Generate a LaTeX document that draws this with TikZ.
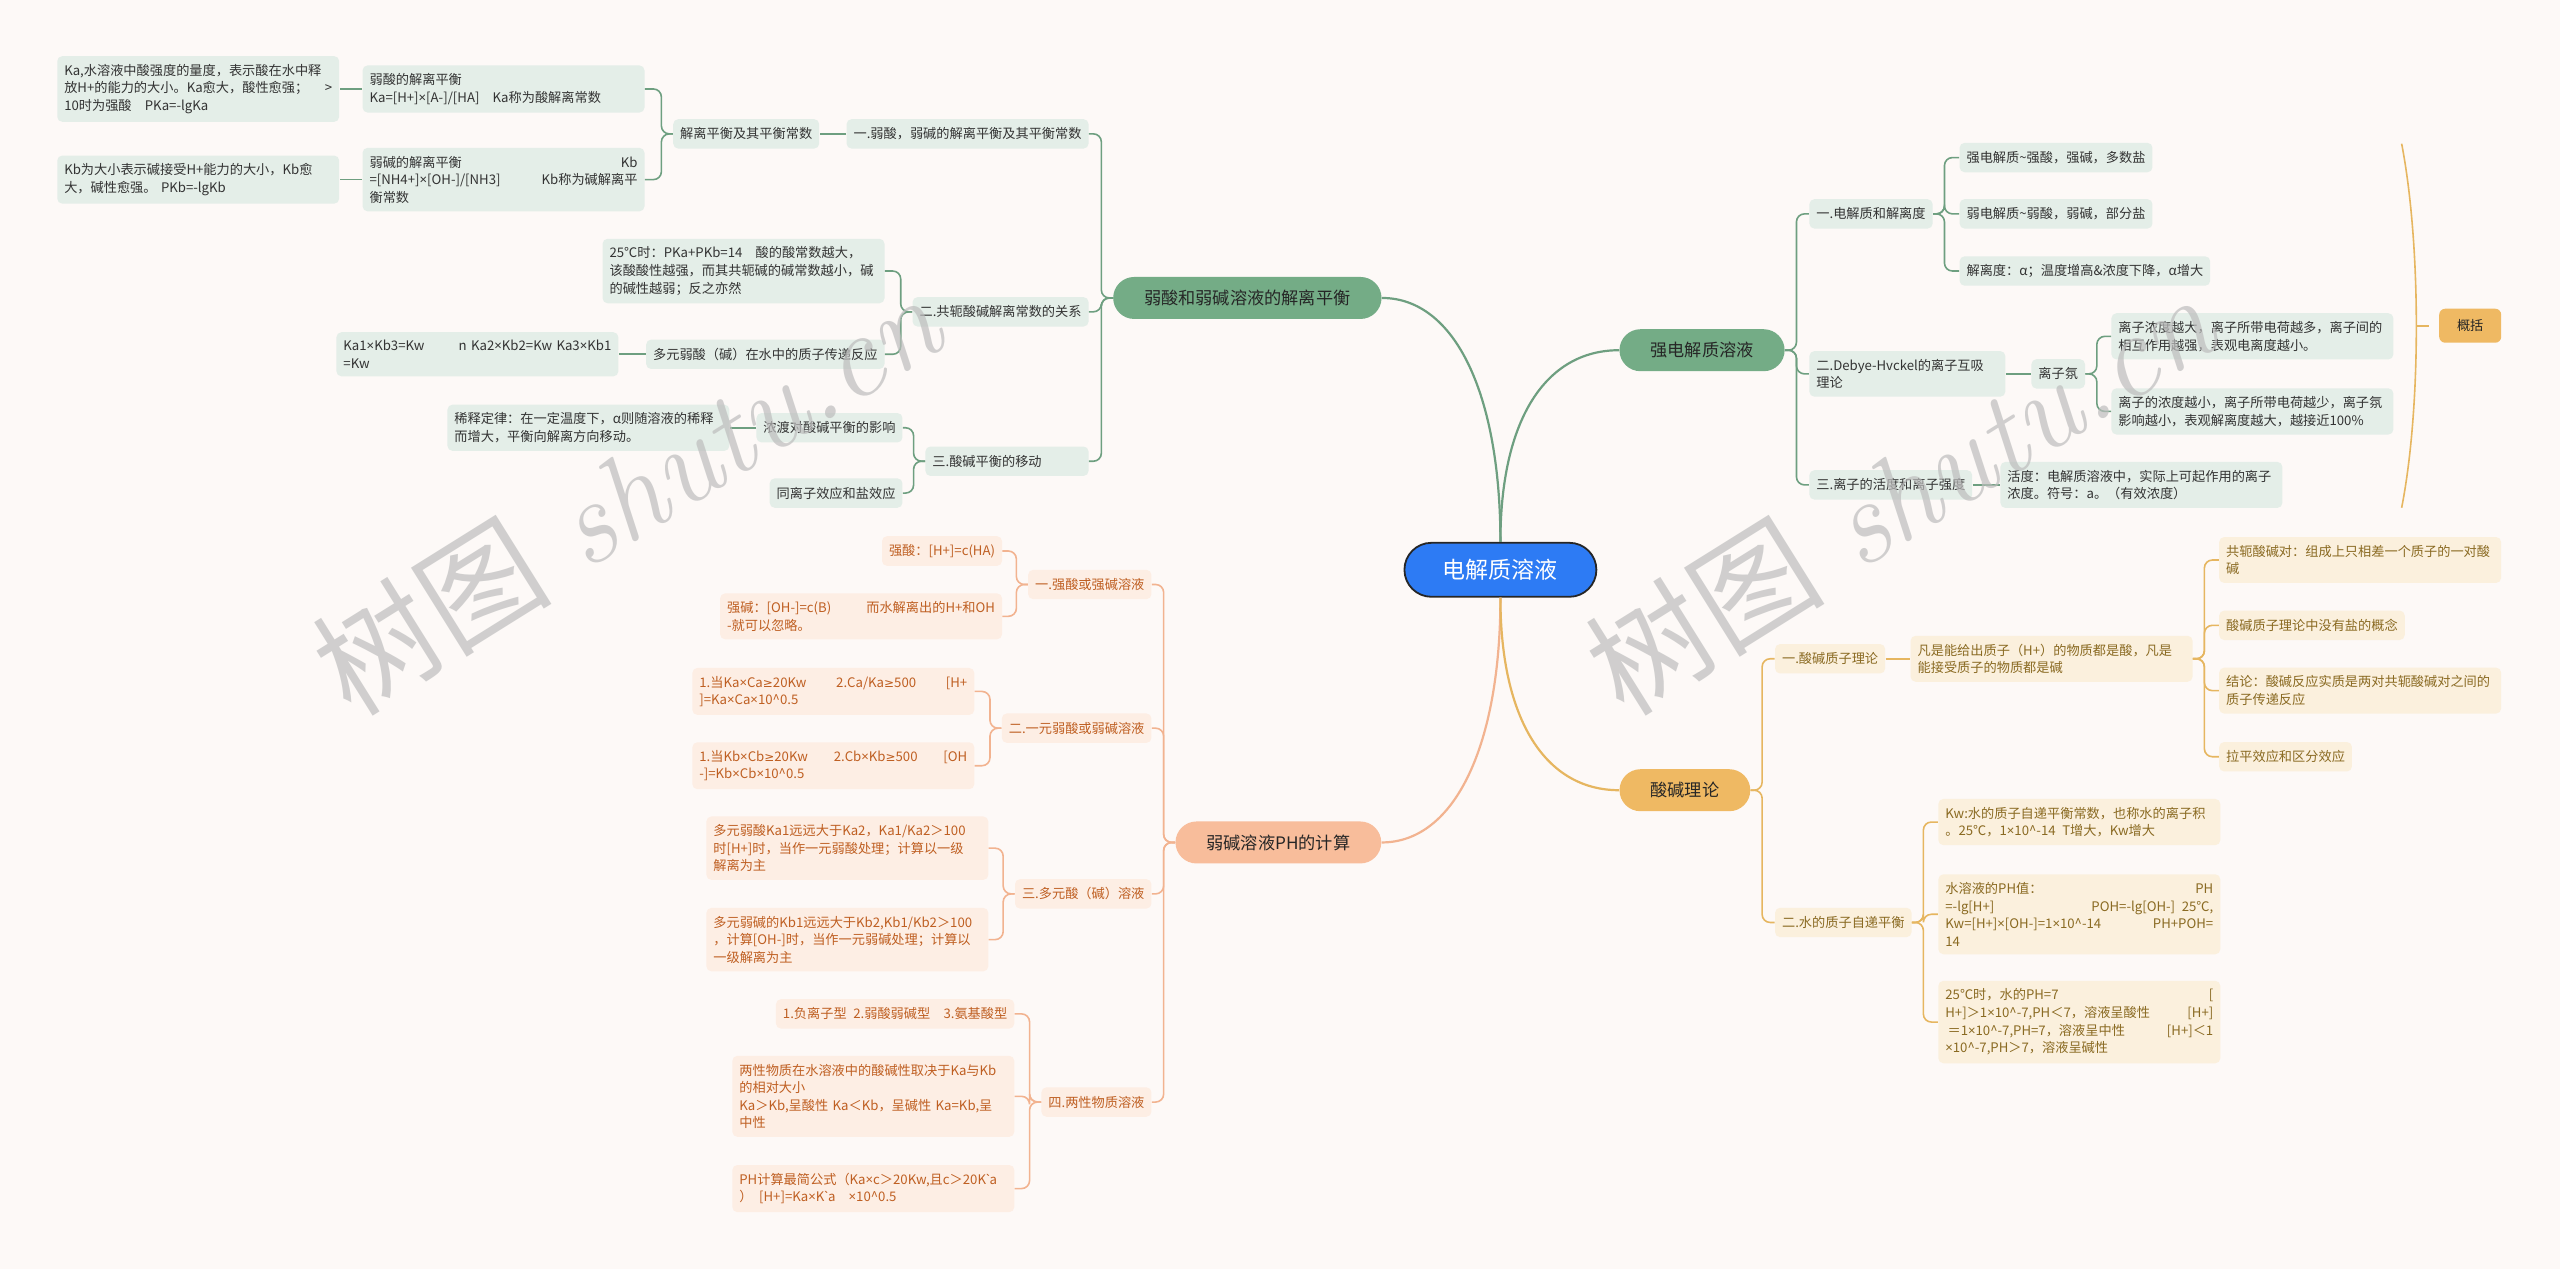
\documentclass[tikz,border=0pt]{standalone}
\usepackage{fontspec}
\newfontfamily\cjk{Noto Sans CJK SC}
\newfontfamily\latn{Noto Sans}
\newfontfamily\symf{DejaVu Sans}
\newcommand{\tms}{{\latn ×}}
\newcommand{\geqs}{{\symf\fontsize{6pt}{8.8pt}\selectfont ≥}}
\newcommand{\bq}{{\latn\textasciigrave}}
\usetikzlibrary{calc}
\definecolor{bgc}{HTML}{FDF9F7}
\definecolor{gline}{HTML}{6E9F80}
\definecolor{gmain}{HTML}{74AC86}
\definecolor{gleaf}{HTML}{E4EEE8}
\definecolor{gtext}{HTML}{333333}
\definecolor{pline}{HTML}{F2B390}
\definecolor{pmain}{HTML}{F8BD9B}
\definecolor{pleaf}{HTML}{FDEEE4}
\definecolor{ptext}{HTML}{BF5F22}
\definecolor{oline}{HTML}{E6B660}
\definecolor{omain}{HTML}{EFB963}
\definecolor{oleaf}{HTML}{FBF0DD}
\definecolor{otext}{HTML}{8A6A22}
\definecolor{rootc}{HTML}{2D7BF4}
\definecolor{wmc}{HTML}{BDBDBD}
\begin{document}
\begin{tikzpicture}[x=0.8165pt,y=-0.8165pt,
  leaf/.style={rounded corners=2.5pt,inner xsep=3.5pt,inner ysep=4pt,minimum height=14.7pt,align=left,font=\cjk\fontsize{6.6pt}{8.8pt}\selectfont},
  gleafbox/.style={leaf,fill=gleaf,text=gtext},
  pleafbox/.style={leaf,fill=pleaf,text=ptext},
  oleafbox/.style={leaf,fill=oleaf,text=otext},
  wide/.style={text width=134pt},
  mainbox/.style={rounded corners=10.5pt,inner xsep=15.5pt,minimum height=21pt,text=black!85,font=\cjk\fontsize{8.6pt}{10pt}\selectfont},
  gmainbox/.style={mainbox,fill=gmain},
  pmainbox/.style={mainbox,fill=pmain},
  omainbox/.style={mainbox,fill=omain},
  rootbox/.style={fill=rootc,draw=black!85,line width=0.9pt,text=white,rounded corners=13.5pt,minimum width=96pt,minimum height=27pt,font=\cjk\fontsize{11.5pt}{13pt}\selectfont},
  glink/.style={draw=gline,line width=0.8pt,rounded corners=4pt},
  plink/.style={draw=pline,line width=0.8pt,rounded corners=4pt},
  olink/.style={draw=oline,line width=0.8pt,rounded corners=4pt},
  gcurve/.style={draw=gline,line width=1.1pt},
  pcurve/.style={draw=pline,line width=1.1pt},
  ocurve/.style={draw=oline,line width=1.1pt},
  wmark/.style={text=wmc,opacity=0.7,inner sep=0pt,font=\fontsize{60pt}{64pt}\selectfont}]
  \useasboundingbox (0,0) rectangle (1568,777);
  \fill[bgc] (0,0) rectangle (1568,777);

  \node[rootbox] (R) at (919,349) {电解质溶液};

  \node[gmainbox] (G0) at (764,182.5) {弱酸和弱碱溶液的解离平衡};
  \node[gleafbox,anchor=east] (G1) at (667,82) {一.弱酸，弱碱的解离平衡及其平衡常数};
  \node[gleafbox,anchor=east] (G11) at (502,82) {解离平衡及其平衡常数};
  \node[gleafbox,wide,anchor=east] (G111) at (395,54.5) {弱酸的解离平衡\\Ka=[H+]\tms[A-]/[HA]\quad Ka称为酸解离常数};
  \node[gleafbox,wide,anchor=east] (G112) at (395,110) {弱碱的解离平衡\hfill Kb\\=[NH4+]\tms[OH-]/[NH3]\hfill Kb称为碱解离平\\衡常数};
  \node[gleafbox,wide,anchor=east] (G1111) at (208,54.5) {Ka,水溶液中酸强度的量度，表示酸在水中释\\放H+的能力的大小。Ka愈大，酸性愈强；\hfill\textgreater\\10时为强酸\quad PKa=-lgKa};
  \node[gleafbox,wide,anchor=east] (G1121) at (208,110) {Kb为大小表示碱接受H+能力的大小，Kb愈\\大，碱性愈强。 PKb=-lgKb};
  \node[gleafbox,anchor=east] (G2) at (667,191) {二.共轭酸碱解离常数的关系};
  \node[gleafbox,wide,anchor=east] (G21) at (542,166) {25℃时：PKa+PKb=14\quad 酸的酸常数越大，\\该酸酸性越强，而其共轭碱的碱常数越小，碱\\的碱性越弱；反之亦然};
  \node[gleafbox,anchor=east] (G22) at (542,217) {多元弱酸（碱）在水中的质子传递反应};
  \node[gleafbox,wide,anchor=east] (G221) at (379,217) {Ka1\tms Kb3=Kw\hfill n Ka2\tms Kb2=Kw Ka3\tms Kb1\\=Kw};
  \node[gleafbox,anchor=east,text width=74.6pt] (G3) at (667,282.5) {三.酸碱平衡的移动};
  \node[gleafbox,anchor=east] (G31) at (553,262) {浓渡对酸碱平衡的影响};
  \node[gleafbox,wide,anchor=east] (G311) at (447,262) {稀释定律：在一定温度下，α则随溶液的稀释\\而增大，平衡向解离方向移动。};
  \node[gleafbox,anchor=east] (G32) at (553,302) {同离子效应和盐效应};

  \node[pmainbox] (P0) at (783,516) {弱碱溶液PH的计算};
  \node[pleafbox,anchor=east] (P1) at (705.5,358) {一.强酸或强碱溶液};
  \node[pleafbox,anchor=east] (P11) at (614,337.5) {强酸：[H+]=c(HA)};
  \node[pleafbox,wide,anchor=east] (P12) at (614,377.5) {强碱：[OH-]=c(B)\hfill 而水解离出的H+和OH\\-就可以忽略。};
  \node[pleafbox,anchor=east] (P2) at (705.5,446) {二.一元弱酸或弱碱溶液};
  \node[pleafbox,wide,anchor=east] (P21) at (597,423.5) {1.当Ka\tms Ca\geqs 20Kw\hfill 2.Ca/Ka\geqs 500\hfill [H+\\]=Ka\tms Ca\tms 10\textasciicircum 0.5};
  \node[pleafbox,wide,anchor=east] (P22) at (597,469) {1.当Kb\tms Cb\geqs 20Kw\hfill 2.Cb\tms Kb\geqs 500\hfill [OH\\-]=Kb\tms Cb\tms 10\textasciicircum 0.5};
  \node[pleafbox,anchor=east] (P3) at (705.5,547.5) {三.多元酸（碱）溶液};
  \node[pleafbox,wide,anchor=east] (P31) at (605.6,519.5) {多元弱酸Ka1远远大于Ka2，Ka1/Ka2＞100\\时[H+]时，当作一元弱酸处理；计算以一级\\解离为主};
  \node[pleafbox,wide,anchor=east] (P32) at (605.6,575.5) {多元弱碱的Kb1远远大于Kb2,Kb1/Kb2＞100\\，计算[OH-]时，当作一元弱碱处理；计算以\\一级解离为主};
  \node[pleafbox,anchor=east] (P4) at (705.5,675) {四.两性物质溶液};
  \node[pleafbox,anchor=east] (P41) at (621.5,621) {1.负离子型\enspace 2.弱酸弱碱型\quad 3.氨基酸型};
  \node[pleafbox,wide,anchor=east] (P42) at (621.5,671.5) {两性物质在水溶液中的酸碱性取决于Ka与Kb\\的相对大小\\Ka＞Kb,呈酸性 Ka＜Kb，呈碱性 Ka=Kb,呈\\中性};
  \node[pleafbox,wide,anchor=east] (P43) at (621.5,728) {PH计算最简公式（Ka\tms c＞20Kw,且c＞20K\bq a\\）\enspace[H+]=Ka\tms K\bq a\quad\tms 10\textasciicircum 0.5};

  \node[gmainbox] (S0) at (1042.5,214.5) {强电解质溶液};
  \node[gleafbox,anchor=west] (S1) at (1108,131) {一.电解质和解离度};
  \node[gleafbox,anchor=west] (S11) at (1200,96.5) {强电解质\textasciitilde 强酸，强碱，多数盐};
  \node[gleafbox,anchor=west] (S12) at (1200,131) {弱电解质\textasciitilde 弱酸，弱碱，部分盐};
  \node[gleafbox,anchor=west] (S13) at (1200,166) {解离度：α；温度增高\&浓度下降，α增大};
  \node[gleafbox,anchor=west,text width=91pt] (S2) at (1108,229) {二.Debye-Hvckel的离子互吸\\理论};
  \node[gleafbox,anchor=west] (S21) at (1244,229) {离子氛};
  \node[gleafbox,wide,anchor=west] (S211) at (1293,206) {离子浓度越大，离子所带电荷越多，离子间的\\相互作用越强，表观电离度越小。};
  \node[gleafbox,wide,anchor=west] (S212) at (1293,252) {离子的浓度越小，离子所带电荷越少，离子氛\\影响越小，表观解离度越大，越接近100\%};
  \node[gleafbox,anchor=west] (S3) at (1108,297) {三.离子的活度和离子强度};
  \node[gleafbox,wide,anchor=west] (S31) at (1225,297) {活度：电解质溶液中，实际上可起作用的离子\\浓度。符号：a。（有效浓度）};
  \node[leaf,fill=omain,text=black!85,rounded corners=3pt,minimum width=31pt,minimum height=17pt,align=center] (Sum) at (1513,199.5) {概括};

  \node[omainbox] (A0) at (1032,484) {酸碱理论};
  \node[oleafbox,anchor=west] (A1) at (1087,403.5) {一.酸碱质子理论};
  \node[oleafbox,wide,anchor=west] (A11) at (1170,403.5) {凡是能给出质子（H+）的物质都是酸，凡是\\能接受质子的物质都是碱};
  \node[oleafbox,wide,anchor=west] (A111) at (1359,343) {共轭酸碱对：组成上只相差一个质子的一对酸\\碱};
  \node[oleafbox,anchor=west] (A112) at (1359,383) {酸碱质子理论中没有盐的概念};
  \node[oleafbox,wide,anchor=west] (A113) at (1359,423) {结论：酸碱反应实质是两对共轭酸碱对之间的\\质子传递反应};
  \node[oleafbox,anchor=west] (A114) at (1359,463.5) {拉平效应和区分效应};
  \node[oleafbox,anchor=west] (A2) at (1087,565) {二.水的质子自递平衡};
  \node[oleafbox,wide,anchor=west] (A21) at (1187,503.5) {Kw:水的质子自递平衡常数，也称水的离子积\\。25℃，1\tms 10\textasciicircum-14\enspace T增大，Kw增大};
  \node[oleafbox,wide,anchor=west] (A22) at (1187,560) {水溶液的PH值：\hfill PH\\=-lg[H+]\hfill POH=-lg[OH-]\enspace 25℃,\\Kw=[H+]\tms[OH-]=1\tms 10\textasciicircum-14\hfill PH+POH=\\14};
  \node[oleafbox,wide,anchor=west] (A23) at (1187,626) {25℃时，水的PH=7\hfill [\\H+]＞1\tms 10\textasciicircum-7,PH＜7，溶液呈酸性\hfill [H+]\\\,＝1\tms 10\textasciicircum-7,PH=7，溶液呈中性\hfill [H+]＜1\\\tms 10\textasciicircum-7,PH＞7，溶液呈碱性};

  \draw[gcurve] (R.north) .. controls +(0,-90) and +(45,0) .. (G0.east);
  \draw[gcurve] (R.north) .. controls +(0,-75) and +(-45,0) .. (S0.west);
  \draw[pcurve] (R.south) .. controls +(0,90) and +(45,0) .. (P0.east);
  \draw[ocurve] (R.south) .. controls +(0,75) and +(-45,0) .. (A0.west);

  \draw[glink] (G0.west) -- ++(-7,0) |- (G1.east);
  \draw[glink] (G0.west) -- ++(-7,0) |- (G2.east);
  \draw[glink] (G0.west) -- ++(-7,0) |- (G3.east);
  \draw[glink] (G1.west) -- (G11.east);
  \draw[glink] (G11.west) -- ++(-7,0) |- (G111.east);
  \draw[glink] (G11.west) -- ++(-7,0) |- (G112.east);
  \draw[glink] (G111.west) -- (G1111.east);
  \draw[glink] (G112.west) -- (G1121.east);
  \draw[glink] (G2.west) -- ++(-7,0) |- (G21.east);
  \draw[glink] (G2.west) -- ++(-7,0) |- (G22.east);
  \draw[glink] (G22.west) -- (G221.east);
  \draw[glink] (G3.west) -- ++(-7,0) |- (G31.east);
  \draw[glink] (G3.west) -- ++(-7,0) |- (G32.east);
  \draw[glink] (G31.west) -- (G311.east);

  \draw[plink] (P0.west) -- ++(-7,0) |- (P1.east);
  \draw[plink] (P0.west) -- ++(-7,0) |- (P2.east);
  \draw[plink] (P0.west) -- ++(-7,0) |- (P3.east);
  \draw[plink] (P0.west) -- ++(-7,0) |- (P4.east);
  \draw[plink] (P1.west) -- ++(-7,0) |- (P11.east);
  \draw[plink] (P1.west) -- ++(-7,0) |- (P12.east);
  \draw[plink] (P2.west) -- ++(-7,0) |- (P21.east);
  \draw[plink] (P2.west) -- ++(-7,0) |- (P22.east);
  \draw[plink] (P3.west) -- ++(-7,0) |- (P31.east);
  \draw[plink] (P3.west) -- ++(-7,0) |- (P32.east);
  \draw[plink] (P4.west) -- ++(-7,0) |- (P41.east);
  \draw[plink] (P4.west) -- ++(-7,0) |- (P42.east);
  \draw[plink] (P4.west) -- ++(-7,0) |- (P43.east);

  \draw[glink] (S0.east) -- ++(7,0) |- (S1.west);
  \draw[glink] (S0.east) -- ++(7,0) |- (S2.west);
  \draw[glink] (S0.east) -- ++(7,0) |- (S3.west);
  \draw[glink] (S1.east) -- ++(7,0) |- (S11.west);
  \draw[glink] (S1.east) -- ++(7,0) |- (S12.west);
  \draw[glink] (S1.east) -- ++(7,0) |- (S13.west);
  \draw[glink] (S2.east) -- (S21.west);
  \draw[glink] (S21.east) -- ++(7,0) |- (S211.west);
  \draw[glink] (S21.east) -- ++(7,0) |- (S212.west);
  \draw[glink] (S3.east) -- (S31.west);

  \coordinate (brtop) at (1471,88);
  \coordinate (brbot) at (1471,311);
  \coordinate (brmid) at (1480,199.5);
  \draw[olink] (brtop) .. controls (1483,150) and (1483,250) .. (brbot);
  \draw[olink] (brmid) -- ++(8,0);

  \draw[olink] (A0.east) -- ++(7,0) |- (A1.west);
  \draw[olink] (A0.east) -- ++(7,0) |- (A2.west);
  \draw[olink] (A1.east) -- (A11.west);
  \draw[olink] (A11.east) -- ++(7,0) |- (A111.west);
  \draw[olink] (A11.east) -- ++(7,0) |- (A112.west);
  \draw[olink] (A11.east) -- ++(7,0) |- (A113.west);
  \draw[olink] (A11.east) -- ++(7,0) |- (A114.west);
  \draw[olink] (A2.east) -- ++(7,0) |- (A21.west);
  \draw[olink] (A2.east) -- ++(7,0) |- (A22.west);
  \draw[olink] (A2.east) -- ++(7,0) |- (A23.west);

  \node[wmark,anchor=base west,rotate=32] (wm1) at (215,440) {{\cjk 树图} {\itshape shutu.cn}};
  \node[wmark,anchor=base west,rotate=32] (wm2) at (995,440) {{\cjk 树图} {\itshape shutu.cn}};
\end{tikzpicture}
\end{document}
